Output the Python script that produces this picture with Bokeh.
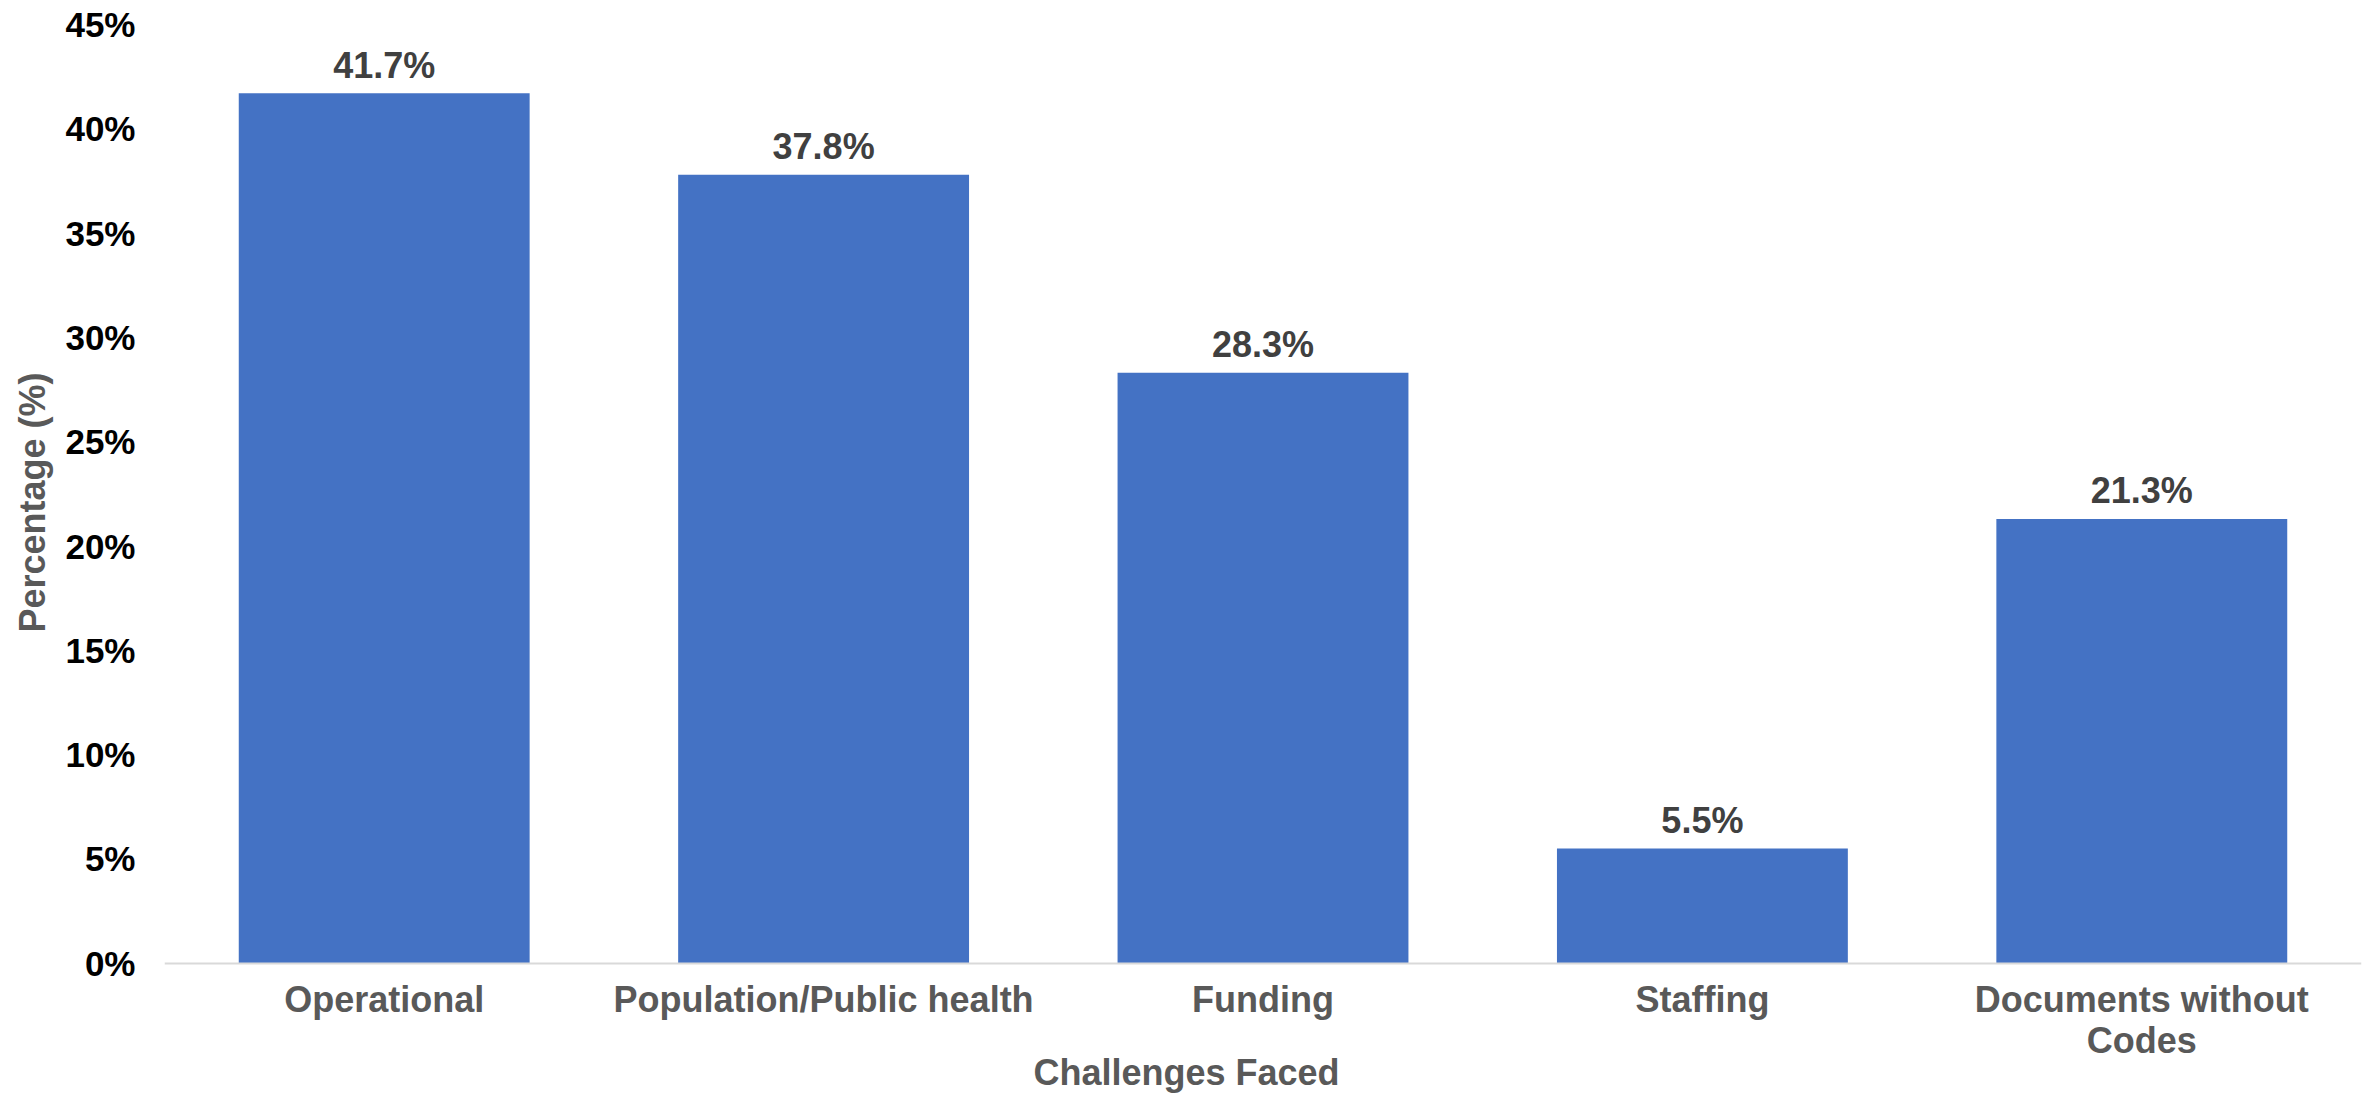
from bokeh.plotting import figure
from bokeh.models import ColumnDataSource, FixedTicker, Label, Range1d, Title
from bokeh.core.properties import value
from bokeh.embed import file_html
from bokeh.resources import INLINE

# ---- data ----
categories = ["Operational", "Population/Public health", "Funding", "Staffing", "Documents without\nCodes"]
percentages = [41.7, 37.8, 28.3, 5.5, 21.3]
value_labels = ["41.7%", "37.8%", "28.3%", "5.5%", "21.3%"]
y_tick_values = [0, 5, 10, 15, 20, 25, 30, 35, 40, 45]
y_tick_labels = ["0%", "5%", "10%", "15%", "20%", "25%", "30%", "35%", "40%", "45%"]
x_title = "Challenges Faced"
y_title = "Percentage (%)"

FONT = "Liberation Sans"
BAR = "#4472C4"

src = ColumnDataSource(dict(cat=categories, val=percentages, lab=value_labels))

# frame runs down to the bottom of the canvas; the value axis starts below 0 so
# that the category axis (fixed at 0) and its title sit inside the frame
p = figure(
    x_range=categories,
    y_range=Range1d(-6.39, 45),
    width=2374, height=1096,
    output_backend="svg", toolbar_location=None,
    min_border_left=164, min_border_right=13,
    min_border_top=24, min_border_bottom=0,
)
p.outline_line_color = None
p.background_fill_color = "white"
p.border_fill_color = "white"
p.xgrid.grid_line_color = None
p.ygrid.grid_line_color = None
p.x_range.range_padding = 0

p.vbar(x="cat", top="val", bottom=0, width=0.662, source=src, fill_color=BAR, line_color=None)

p.text(x="cat", y="val", text="lab", source=src,
       text_font=value(FONT), text_font_style="bold", text_font_size="36px",
       text_color="#404040", text_align="center", text_baseline="alphabetic",
       y_offset=-28)

# y axis
ya = p.yaxis[0]
ya.ticker = FixedTicker(ticks=y_tick_values)
ya.major_label_overrides = {v: l for v, l in zip(y_tick_values, y_tick_labels)}
ya.axis_line_color = None
ya.major_tick_line_color = None
ya.minor_tick_line_color = None
ya.major_tick_in = 0
ya.major_tick_out = 0
ya.major_label_standoff = 29
ya.major_label_text_font = FONT
ya.major_label_text_font_style = "bold"
ya.major_label_text_font_size = "35px"
ya.major_label_text_color = "#000000"

# y axis title (left panel), centred on the 0-45% span
p.add_layout(Title(text=y_title, align="left", offset=464, standoff=19,
                   text_font=FONT, text_font_style="bold",
                   text_font_size="36px", text_color="#595959"), "left")

# x axis, fixed at the 0 line
xa = p.xaxis[0]
xa.fixed_location = 0
xa.axis_line_color = "#d9d9d9"
xa.axis_line_width = 2
xa.major_tick_line_color = None
xa.minor_tick_line_color = None
xa.major_tick_in = 0
xa.major_tick_out = 0
xa.major_label_standoff = 16
xa.major_label_text_font = FONT
xa.major_label_text_font_style = "bold"
xa.major_label_text_font_size = "36px"
xa.major_label_text_color = "#595959"
xa.major_label_text_line_height = 1.0

# x axis title below the axis, centred on the whole chart width
p.add_layout(Label(x=1022, y=-5.24, x_units="screen", y_units="data",
                   text=x_title, text_font=FONT, text_font_style="bold",
                   text_font_size="36px", text_color="#595959",
                   text_align="center", text_baseline="middle",
                   level="overlay"))

open("out.html", "w").write(file_html(p, INLINE))
